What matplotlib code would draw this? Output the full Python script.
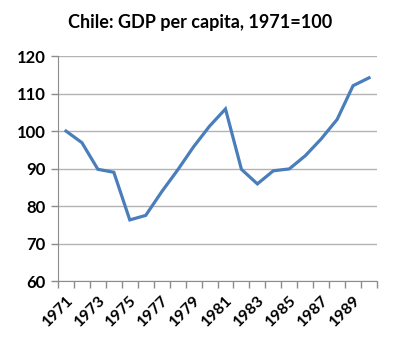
import numpy as np
import matplotlib.pyplot as plt

plt.rcParams['font.family'] = ['Lato', 'DejaVu Sans']

years = list(range(1971, 1991))
gdp = [100, 96.9, 89.8, 89.0, 76.3, 77.5, 83.8, 89.6, 95.8, 101.3,
       105.9, 89.8, 85.9, 89.4, 89.9, 93.4, 97.9, 103.1, 112.1, 114.2]
yticks = [60, 70, 80, 90, 100, 110, 120]

fig = plt.figure(figsize=(4, 3.52), dpi=100)
ax = fig.add_axes([0.145, 0.2017, 0.7975, 0.639])

x = np.arange(len(years))
ax.plot(x, gdp, color='#4a7ebb', lw=2.3, solid_joinstyle='miter', zorder=3)

ax.set_xlim(-0.5, len(years) - 0.5)
ax.set_ylim(60, 120)
ax.set_yticks(yticks)
ax.set_yticklabels([str(v) for v in yticks], fontsize=12, fontweight='bold')
ax.yaxis.grid(True, color='#b3b3b3', lw=1)
ax.set_axisbelow(True)

ax.set_xticks(x[::2])
ax.set_xticklabels([str(y) for y in years[::2]], rotation=45, ha='right',
                   rotation_mode='anchor', fontsize=11.5, fontweight='bold')
ax.set_xticks(np.arange(-0.5, len(years)), minor=True)
ax.tick_params(axis='x', which='major', length=0, pad=9)
ax.tick_params(axis='x', which='minor', length=5, color='#8c8c8c', width=1)
ax.tick_params(axis='y', length=5, color='#8c8c8c', width=1, pad=4)

for s in ['top', 'right']:
    ax.spines[s].set_visible(False)
for s in ['left', 'bottom']:
    ax.spines[s].set_color('#8c8c8c')

fig.text(0.5, 0.935, 'Chile: GDP per capita, 1971=100', ha='center', va='center',
         fontsize=13, fontweight='bold')

fig.savefig('out.png', dpi=100)
